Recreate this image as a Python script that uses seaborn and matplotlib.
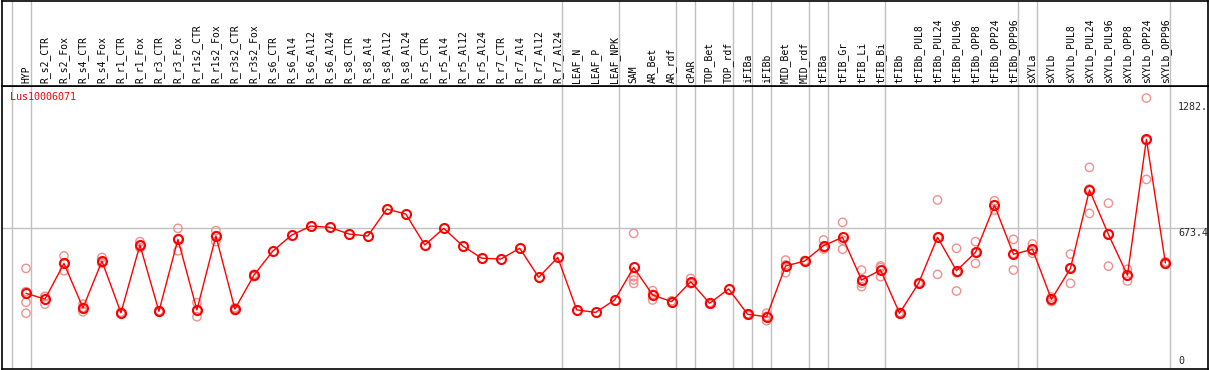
import numpy as np
import pandas as pd
import matplotlib
matplotlib.use("Agg")
import matplotlib.pyplot as plt
import seaborn as sns

# 样本名称
samples = [
    "HYP",
    "R_s2_CTR", "R_s2_Fox", "R_s4_CTR", "R_s4_Fox", "R_r1_CTR", "R_r1_Fox",
    "R_r3_CTR", "R_r3_Fox", "R_r1s2_CTR", "R_r1s2_Fox", "R_r3s2_CTR", "R_r3s2_Fox",
    "R_s6_CTR", "R_s6_Al4", "R_s6_Al12", "R_s6_Al24",
    "R_s8_CTR", "R_s8_Al4", "R_s8_Al12", "R_s8_Al24",
    "R_r5_CTR", "R_r5_Al4", "R_r5_Al12", "R_r5_Al24",
    "R_r7_CTR", "R_r7_Al4", "R_r7_Al12", "R_r7_Al24",
    "LEAF_N", "LEAF_P", "LEAF_NPK",
    "SAM", "AR_Bet", "AR_rdf",
    "cPAR",
    "TOP_Bet", "TOP_rdf",
    "iFIBa",
    "iFIBb",
    "MID_Bet", "MID_rdf",
    "tFIBa",
    "tFIB_Gr", "tFIB_Li", "tFIB_Bi",
    "tFIBb", "tFIBb_PUL8", "tFIBb_PUL24", "tFIBb_PUL96",
    "tFIBb_OPP8", "tFIBb_OPP24", "tFIBb_OPP96",
    "sXYLa",
    "sXYLb", "sXYLb_PUL8", "sXYLb_PUL24", "sXYLb_PUL96",
    "sXYLb_OPP8", "sXYLb_OPP24", "sXYLb_OPP96",
]

# 每组样本数（组之间画灰色竖线）
group_sizes = [1, 28, 3, 3, 1, 2, 1, 1, 2, 1, 3, 7, 1, 7]

# 平均表达量
means = [
    360,
    332, 504, 290, 515, 266, 593, 273, 620, 280, 636, 284, 447,
    564, 641, 684, 678, 646, 636, 766, 742,
    593, 673, 588, 529, 525, 577, 437, 533,
    280, 268, 328,
    485, 352, 320,
    416,
    312, 381,
    259,
    247,
    492, 515,
    590,
    630, 424, 472,
    264, 408, 630, 469, 557, 784, 548,
    572,
    331, 480, 858, 644, 447, 1102, 506,
]

# 生物学重复
replicates = [
    [480, 368, 317, 264],
    [344, 345, 308], [540, 469, 504], [271, 308, 292], [533, 504, 508],
    [262, 268, 268], [609, 580, 590], [270, 276, 273], [673, 565, 622],
    [315, 247, 278], [662, 609, 637], [276, 290, 286], [440, 452, 449],
    [], [], [], [], [], [], [], [],
    [], [], [], [], [], [], [], [],
    [], [], [],
    [649, 440, 424, 408], [373, 328, 355], [316, 324],
    [432, 410, 406],
    [309, 315], [],
    [262, 255, 260],
    [264, 228, 249],
    [520, 459, 497], [512, 518],
    [617, 573, 580],
    [702, 572, 616], [472, 392, 408], [492, 440, 484],
    [260, 268, 264], [405, 411], [810, 451, 629], [577, 371, 459],
    [609, 504, 558], [806, 761, 785], [620, 472, 552],
    [598, 553, 565],
    [331, 320, 342], [549, 408, 483], [967, 745, 862], [794, 491, 647],
    [476, 419, 446], [1301, 909, 1096], [500, 512, 506],
]

gene_id = "Lus10006071"
ref_lines = [1282, 673.4]
ref_labels = ["1282.", "673.4"]

# 数据整理
pos = np.arange(len(samples))
rep_df = pd.DataFrame(
    [(i, v) for i, reps in enumerate(replicates) for v in reps],
    columns=["pos", "value"],
)
mean_df = pd.DataFrame({"pos": pos, "value": means})

breaks = np.cumsum([0] + group_sizes) - 1 + 0.25

sns.set_style("white")
plt.rcParams["font.family"] = ["DejaVu Sans Mono", "DejaVu Sans"]

W, H = 1209, 370
fig = plt.figure(figsize=(W / 100, H / 100), dpi=100)

x_left, x_right = 1.5, 1207.5
y_sep = 86
y_bot = 369
ax = fig.add_axes([x_left / W, (H - y_bot) / H, (x_right - x_left) / W, (y_bot - y_sep) / H])
ax_top = fig.add_axes([x_left / W, (H - y_sep) / H, (x_right - x_left) / W, (y_sep - 0.5) / H])

px0, step = 26.0, 18.99
xlim = ((x_left - px0) / step, (x_right - px0) / step)
scale = 0.2075
ylim = ((368 - y_bot) / scale, (368 - y_sep) / scale)

for a in (ax, ax_top):
    a.set_xlim(*xlim)
    for b in breaks:
        a.axvline(b, color="#c0c0c0", lw=1, zorder=0)
    a.set_xticks([])
    a.set_yticks([])
    for s in a.spines.values():
        s.set_color("black")
        s.set_linewidth(1.2)

ax.set_ylim(*ylim)
ax_top.set_ylim(0, 1)
ax.axhline(ref_lines[1], color="#c0c0c0", lw=1, zorder=0)

# 重复值
sns.scatterplot(data=rep_df, x="pos", y="value", ax=ax, marker="o", s=36,
                facecolor="none", edgecolor="#f09090", linewidth=1.0, zorder=2)

# 平均值折线
sns.lineplot(data=mean_df, x="pos", y="value", ax=ax, color="red", linewidth=1,
             marker="o", markersize=6.5, markerfacecolor="none",
             markeredgecolor="red", markeredgewidth=1.5, zorder=3)
ax.set_xlabel("")
ax.set_ylabel("")

# 样本标签
for i, name in enumerate(samples):
    ax_top.text(i, 0.035, name, rotation=90, ha="center", va="bottom",
                fontsize=7, color="black")

ax.text((10 - x_left) / (x_right - x_left), 1 - 6 / (y_bot - y_sep), gene_id,
        transform=ax.transAxes, color="red", fontsize=7.2, ha="left", va="top")

tx = (1178 - x_left) / (x_right - x_left)
trans = matplotlib.transforms.blended_transform_factory(ax.transAxes, ax.transData)
for v, lab in zip(ref_lines, ref_labels):
    ax.text(tx, v, lab, transform=trans, fontsize=7.2, ha="left", va="top")
ax.text(tx, 10, "0", transform=trans, fontsize=7.2, ha="left", va="bottom")

fig.savefig("out.png", dpi=100)
plt.close(fig)
